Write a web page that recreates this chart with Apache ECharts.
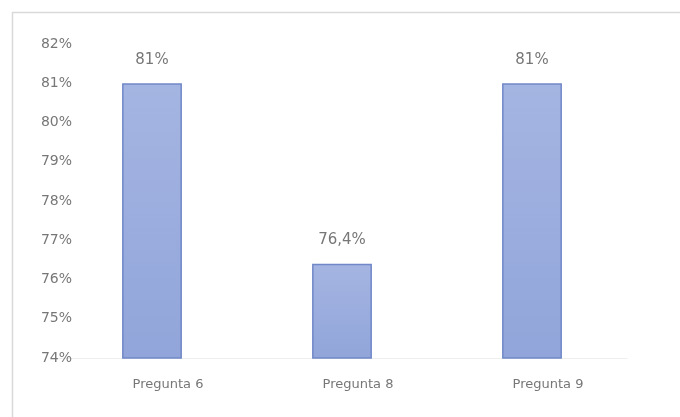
<!DOCTYPE html>
<html>
<head>
<meta charset="utf-8">
<script src="https://cdn.jsdelivr.net/npm/echarts@6/dist/echarts.min.js"></script>
<style>
html, body { margin: 0; padding: 0; background: #fff; }
#grafico { width: 680px; height: 417px; }
</style>
</head>
<body>
<div id="grafico"></div>
<script>
var preguntas = ['Pregunta 6', 'Pregunta 8', 'Pregunta 9'];
var porcentajes = [81, 76.4, 81];

var myChart = echarts.init(document.getElementById('grafico'));
var option = {
    animation: false,
    backgroundColor: '#fff',
    textStyle: { fontFamily: 'DejaVu Sans' },
    graphic: [
        {
            type: 'rect',
            shape: { x: 12.5, y: 12.5, width: 700, height: 450 },
            style: { fill: 'none', stroke: '#d9d9d9', lineWidth: 1.5 },
            silent: true
        }
    ],
    grid: {
        left: 57,
        right: 53,
        top: 44,
        bottom: 59
    },
    xAxis: {
        type: 'category',
        data: preguntas,
        axisTick: { show: false },
        axisLine: { lineStyle: { color: '#eeeeee' } },
        axisLabel: {
            color: '#777',
            fontSize: 13,
            margin: 20,
            padding: [0, 0, 0, 32]
        }
    },
    yAxis: {
        type: 'value',
        min: 74,
        max: 82,
        interval: 1,
        splitLine: { show: false },
        axisLine: { show: false },
        axisTick: { show: false },
        axisLabel: {
            color: '#777',
            fontSize: 14,
            margin: -15,
            formatter: function (v) { return v + '%'; }
        }
    },
    series: [
        {
            type: 'bar',
            data: porcentajes,
            barWidth: '31.5%',
            itemStyle: {
                color: new echarts.graphic.LinearGradient(0, 0, 0, 1, [
                    { offset: 0, color: '#a5b5e2' },
                    { offset: 1, color: '#91a5da' }
                ]),
                borderColor: '#7088c8',
                borderWidth: 1.5
            },
            label: {
                show: true,
                position: 'top',
                distance: 16,
                color: '#777',
                fontSize: 15,
                formatter: function (p) { return String(p.value).replace('.', ',') + '%'; }
            }
        }
    ]
};
myChart.setOption(option);
</script>
</body>
</html>
